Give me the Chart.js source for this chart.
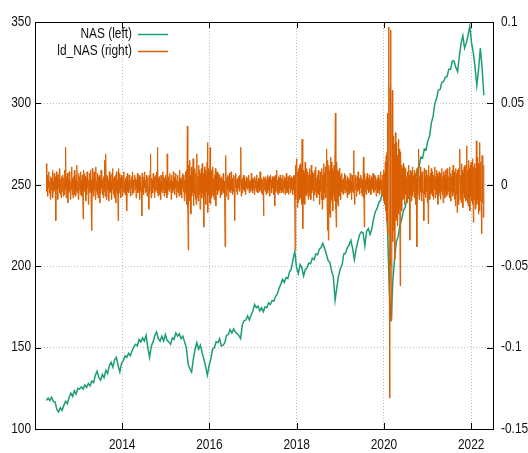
<!DOCTYPE html>
<html>
<head>
<meta charset="utf-8">
<script src="https://cdn.jsdelivr.net/npm/chart.js@4/dist/chart.umd.min.js"></script>
<style>
  html, body { margin: 0; padding: 0; background: #fff; }
  canvas { display: block; }
</style>
</head>
<body>
<canvas id="chart" width="528" height="453"></canvas>
<script>
// Période couverte (observations régulières)
const startYear = 2012.26;
const endYear = 2022.29;

// Niveau NAS (axe gauche)
const nasValues = [
    117.5, 119, 117.5, 119.5, 117, 116.5, 112, 110.5, 113, 111.5,
    114.5, 117, 115.5, 119.5, 122, 120, 123.5, 121.5, 125, 124.5,
    126, 124.5, 127, 125.5, 128, 126.5, 129.5, 128.5, 133, 135.5,
    131.5, 130, 133.5, 131.5, 136, 134, 139, 141, 138, 142.5,
    144, 139, 135, 140.5, 142, 145, 144, 146.5, 145, 148,
    150.5, 152, 151, 155, 153.5, 156, 154, 157.5, 150, 144,
    151, 153.5, 157.5, 159.5, 155.5, 154, 157, 154, 158, 154.5,
    153.5, 152, 156, 155, 159, 157, 158.5, 155.5, 157, 153.5,
    150, 140, 137, 135, 143, 149, 153, 149, 151.5, 147,
    143, 138.5, 133, 139, 143, 149, 150, 153.5, 153, 155.5,
    151, 151.5, 153, 157.5, 158, 161, 159, 161.5, 159.5, 158.5,
    157.5, 155.5, 164, 166.5, 167, 169.5, 167, 170, 172.5, 176.5,
    174.5, 175.5, 172.5, 174.5, 172, 175, 174.5, 177.5, 176.5, 179,
    178.5, 181.5, 183, 186.5, 189, 192, 190, 193, 192.5, 196.5,
    198.5, 204.5, 209, 199, 195.5, 201, 199, 194, 198, 199,
    202, 201.5, 205, 204, 207.5, 207, 210.5, 211.5, 214, 211,
    207.5, 203.5, 202.5, 197, 193.5, 179, 187, 194, 198.5, 201,
    207.5, 208, 211.5, 213, 216, 211, 204, 210.5, 215, 219.5,
    221, 220.5, 212.5, 221.5, 223, 219.5, 223, 229, 233.5, 235.5,
    239, 240.5, 245, 246.5, 240, 222, 185, 166, 191, 205,
    215, 218, 225, 228.5, 234, 236, 241, 242, 247, 248,
    253.5, 254, 260, 261, 267, 266.5, 272, 271.5, 277, 280,
    288, 292, 300, 303, 308, 308.5, 313, 313.5, 316, 316.5,
    321, 321, 326, 326, 322, 319.5, 329, 337, 341.5, 334,
    337, 342, 347.5, 337, 331, 322, 311, 321, 334, 322, 305
];

// Variation logarithmique ld_NAS (axe droit)
const ldNasValues = [
    .013, -.004, .006, -.007, .003, -.002, .008, -.005, .002, -.009, .005, -.003, .004, -.006, .009, -.008, .002, -.004, .007, -.003,
    .005, -.007, -.022, .008, -.003, .006, -.009, .004, -.002, .007, -.005, .010, -.006, .003, -.008, .005, -.004, .002, .006, -.007,
    .004, -.006, .009, -.003, .023, -.008, .005, -.002, .007, -.011, .003, -.005, .008, -.004, .006, -.009, .002, -.003, .011, -.006,
    .004, -.008, .005, -.002, .009, -.006, .003, -.007, .006, -.004, .012, -.005, .002, -.009, .007, -.003, .005, -.006, .008, -.004,
    .003, -.007, .006, -.005, -.021, .009, -.004, .007, -.003, .005, -.010, .004, -.006, .008, -.002, .006, -.012, .003, -.005, .007,
    -.004, .009, -.006, .003, -.028, .010, -.005, .004, -.007, .008, -.003, .006, -.009, .011, -.004, .002, -.006, .007, -.008, .005,
    -.003, .006, -.011, .004, -.005, .009, -.002, .007, -.006, .003, -.008, .005, -.004, .015, -.007, .004, .019, -.009, .006, -.003,
    .005, -.007, .003, -.010, .008, -.004, .006, -.005, .002, -.009, .007, -.003, .010, -.006, .004, -.008, .005, -.002, .006, -.011,
    .008, -.004, .003, -.006, -.022, .010, -.005, .007, -.003, .004, -.008, .006, -.002, .005, -.007, .003, -.004, .008, -.005, .002,
    -.006, .004, -.003, .005, -.016, .007, -.004, .002, -.005, .006, -.003, .004, -.007, .003, -.002, .005, -.006, .008, -.004, .003,
    -.005, .002, .006, -.003, .004, -.008, .003, -.002, .007, -.005, .004, -.003, .006, -.009, .002, -.004, .005, -.003, -.019, .007,
    -.004, .003, -.006, .005, -.002, .008, -.005, .003, -.004, .006, -.007, .002, .005, -.003, -.015, .006, -.004, .009, .019, -.008,
    .004, -.006, .003, -.005, .007, -.002, .005, -.008, .003, -.004, .006, -.003, .008, -.005, .023, -.007, .004, -.003, .005, -.006,
    .002, -.009, .006, -.004, .003, -.005, .008, -.003, .005, -.007, .004, -.002, .006, -.005, .003, -.008, .019, -.006, .004, -.003,
    .005, -.004, .007, -.002, .003, -.009, .006, -.004, .002, -.005, .008, -.003, .004, -.006, .005, -.002, .007, -.008, .003, -.004,
    .006, -.005, .002, -.007, .009, -.003, .004, -.006, .003, -.008, .005, -.002, .007, -.004, .006, -.010, .003, -.005, .008, -.006,
    .009, -.012, .036, -.014, -.040, .012, -.008, .015, -.010, .006, -.018, .011, -.007, .009, -.005, .016, -.013, .008, -.006, .010,
    -.009, .007, -.012, .014, .019, -.008, .005, -.010, .012, -.006, .009, -.015, .007, -.004, .010, -.008, .013, -.005, .007, -.009,
    -.026, .011, -.007, .009, -.012, .006, -.004, .014, .026, -.017, .010, -.006, .008, -.011, .023, -.012, .005, -.008, .009, -.006,
    .011, -.007, .004, -.009, .006, -.005, .010, -.013, .007, -.003, .008, -.006, .005, -.004, .007, -.003, .006, -.008, .004, -.002,
    .005, -.006, .003, -.004, .007, -.005, .002, -.008, -.038, .006, .018, -.007, .004, -.003, .006, -.009, .005, -.002, .007, -.004,
    .003, -.005, .008, -.003, .004, -.006, .002, -.004, .006, -.003, -.022, .005, -.002, .007, -.004, .003, -.006, .004, -.002, .005,
    -.003, .006, -.004, .002, .023, -.007, .003, -.005, .004, -.002, .006, -.003, .005, -.004, .002, -.006, .003, -.002, .005, -.003,
    .004, -.002, .006, -.005, .003, -.003, .002, -.004, .007, -.002, .003, -.005, .004, -.003, .002, -.006, .005, -.002, .003, -.004,
    .006, -.003, .002, -.005, .004, -.002, .003, -.004, .008, -.003, .002, -.005, .004, -.006, .003, -.002, -.019, .005, -.003, .004,
    -.004, .005, -.006, .003, -.002, .006, -.005, .004, -.003, .005, -.007, .002, .006, -.004, .003, -.005, .005, -.002, .004, -.006,
    .005, -.003, -.013, .006, -.004, .005, .009, -.005, .003, -.006, .005, -.002, .004, -.005, .006, -.003, .002, -.005, .004, -.004,
    .006, -.005, .003, -.002, .005, -.006, .004, -.003, .007, -.005, .002, -.004, .005, -.006, .003, -.002, .006, -.005, .004, -.003,
    .005, -.002, .004, -.006, .005, -.003, .006, -.007, -.040, .012, -.009, .014, .016, -.014, .008, -.011, .010, -.007, .012, -.009,
    .013, -.008, .010, -.012, .028, -.016, -.027, .009, -.011, .007, -.012, .014, -.006, .009, -.007, .010, -.005, .008, -.009, .006,
    -.007, .010, -.004, .006, -.009, .012, -.005, .008, -.003, .007, -.010, .005, -.006, .009, -.004, .011, -.007, .004, -.008, .006,
    -.005, .009, -.006, .003, -.012, .008, -.004, .007, -.009, .010, -.015, .006, -.003, .013, -.009, .007, -.005, .011, -.008, .012,
    .022, -.010, -.028, .015, -.034, .012, -.018, .009, -.020, .017, -.011, .014, -.009, .010, -.016, .008, -.006, .012, -.010, .007,
    .044, -.015, -.026, .014, -.011, .009, -.013, .008, -.006, .010, -.007, .005, -.009, .006, -.004, .007, -.005, .003, -.006, .004,
    -.003, .007, -.005, .002, .006, -.004, .003, -.008, .005, -.002, .004, -.006, .003, -.005, .007, -.003, .002, -.009, .006, -.004,
    .003, -.005, .021, -.006, -.012, .004, -.003, .006, -.007, .002, .005, -.004, .008, -.003, .004, -.006, .003, -.002, .006, -.005,
    .004, -.007, .003, -.005, .017, -.008, -.026, .007, -.004, .003, -.006, .005, -.002, .007, -.003, .004, -.005, .002, .006, -.004,
    .003, -.006, .005, -.002, .004, -.003, .007, -.005, .002, -.004, .006, -.003, .005, -.007, .003, -.002, .004, -.005, .006, -.003,
    .002, -.006, .004, -.003, .008, -.005, .003, -.007, .006, -.004, .009, -.010, .007, -.012, .014, -.016, .018, -.022, .020, .044,
    -.030, .035, .097, -.046, -.131, .060, .095, -.050, -.083, .040, .058, -.035, .030, -.028, .025, -.040, -.046, .032, -.022, .026,
    -.020, .018, -.025, .015, .028, -.018, .022, -.015, -.062, .020, -.014, .012, -.016, .010, -.009, .013, -.008, .011, -.012, .007,
    -.006, .010, -.009, .005, -.011, .008, -.007, .012, -.005, .006, -.034, .009, -.006, .008, -.010, .005, -.007, .011, -.004, .006,
    -.008, .009, -.005, .007, -.012, .004, -.038, .010, -.006, .008, .022, -.009, .005, -.007, .011, -.004, .006, -.010, .008, -.005,
    .007, -.009, -.022, .010, -.006, .005, -.008, .009, -.004, .007, -.011, .006, -.024, .012, -.008, .005, -.009, .007, -.006, .010,
    -.005, .008, -.007, .004, -.009, .006, -.003, .011, -.008, .005, -.006, .009, -.004, .007, -.012, .005, -.007, .008, -.005, .006,
    -.009, .007, -.004, .010, -.006, .005, -.011, .008, -.003, .006, -.008, .009, -.005, .004, -.007, .010, -.006, .008, -.004, .005,
    -.008, .011, -.006, .007, -.010, .005, -.004, .009, -.007, .012, -.005, .008, -.009, .006, -.013, .010, -.006, .007, -.017, .009,
    -.007, .010, -.012, .008, .022, -.009, .006, -.011, .013, -.006, .009, -.014, .007, -.005, .011, -.008, .012, -.010, .006, -.009,
    .024, -.011, .009, -.013, .015, -.008, .010, -.016, .012, -.007, .014, -.010, .008, -.012, .016, -.023, .011, -.009, .013, -.015,
    .010, -.014, .027, -.012, .017, -.009, .013, -.018, .011, -.016, .026, -.010, .014, -.013, -.030, .018, -.011, .015, -.020, .012
];

// Graduations
const xTicks = [2014, 2016, 2018, 2020, 2022];
const leftTicks = [100, 150, 200, 250, 300, 350];
const rightTicks = [-0.15, -0.1, -0.05, 0, 0.05, 0.1];
const rightTickLabels = ['-0.15', '-0.1', '-0.05', '0', '0.05', '0.1'];

const seriesNames = ['NAS (left)', 'ld_NAS (right)'];
const seriesColors = ['#1b9e77', '#d95f02'];

const FONT = '14px "Liberation Sans", Arial, sans-serif';
const SQUEEZE = 0.85; // police étroite comme gnuplot

function toPoints(values) {
    const step = (endYear - startYear) / (values.length - 1);
    return values.map((v, i) => ({ x: startYear + i * step, y: v }));
}

function narrowText(ctx, text, x, y, align) {
    ctx.save();
    ctx.scale(SQUEEZE, 1);
    ctx.textAlign = align;
    ctx.fillText(text, x / SQUEEZE, y);
    ctx.restore();
}

// Cadre, graduations intérieures, étiquettes et légende façon gnuplot
const framePlugin = {
    id: 'frame',
    afterDraw(chart) {
        const ctx = chart.ctx;
        const a = chart.chartArea;
        const sx = chart.scales.x;
        const sy = chart.scales.y;
        const sy2 = chart.scales.y2;
        const tick = 6;

        ctx.save();
        ctx.strokeStyle = '#000';
        ctx.lineWidth = 1;
        ctx.beginPath();
        xTicks.forEach(v => {
            const px = Math.round(sx.getPixelForValue(v)) + 0.5;
            ctx.moveTo(px, a.bottom); ctx.lineTo(px, a.bottom - tick);
            ctx.moveTo(px, a.top); ctx.lineTo(px, a.top + tick);
        });
        leftTicks.forEach(v => {
            const py = Math.round(sy.getPixelForValue(v)) + 0.5;
            ctx.moveTo(a.left, py); ctx.lineTo(a.left + tick, py);
        });
        rightTicks.forEach(v => {
            const py = Math.round(sy2.getPixelForValue(v)) + 0.5;
            ctx.moveTo(a.right, py); ctx.lineTo(a.right - tick, py);
        });
        ctx.stroke();
        ctx.strokeRect(Math.round(a.left) + 0.5, Math.round(a.top) + 0.5,
            Math.round(a.right - a.left), Math.round(a.bottom - a.top));

        ctx.font = FONT;
        ctx.fillStyle = '#111';
        ctx.textBaseline = 'middle';

        // Étiquettes des axes
        xTicks.forEach(v => narrowText(ctx, String(v), sx.getPixelForValue(v), a.bottom + 16, 'center'));
        leftTicks.forEach(v => narrowText(ctx, String(v), a.left - 4, sy.getPixelForValue(v), 'right'));
        rightTicks.forEach((v, i) => narrowText(ctx, rightTickLabels[i], a.right + 8, sy2.getPixelForValue(v), 'left'));

        // Légende
        seriesNames.forEach((name, i) => {
            const y = 34 + i * 17;
            narrowText(ctx, name, 132, y, 'right');
            ctx.strokeStyle = seriesColors[i];
            ctx.lineWidth = 1.5;
            ctx.beginPath();
            ctx.moveTo(138, y + 0.5);
            ctx.lineTo(168, y + 0.5);
            ctx.stroke();
        });
        ctx.restore();
    }
};

new Chart(document.getElementById('chart'), {
    type: 'line',
    data: {
        datasets: [
            {
                label: seriesNames[0],
                data: toPoints(nasValues),
                yAxisID: 'y',
                borderColor: seriesColors[0],
                borderWidth: 1.5,
                pointRadius: 0,
                tension: 0,
                order: 1
            },
            {
                label: seriesNames[1],
                data: toPoints(ldNasValues),
                yAxisID: 'y2',
                borderColor: seriesColors[1],
                borderWidth: 1,
                pointRadius: 0,
                tension: 0,
                order: 0
            }
        ]
    },
    options: {
        responsive: false,
        animation: false,
        devicePixelRatio: 1,
        layout: { padding: { top: 22, left: 0, right: 0, bottom: 0 } },
        plugins: {
            legend: { display: false },
            tooltip: { enabled: false }
        },
        scales: {
            x: {
                type: 'linear',
                min: 2012,
                max: 2022.5,
                afterBuildTicks: s => { s.ticks = xTicks.map(v => ({ value: v })); },
                afterFit: s => { s.height = 24; },
                ticks: { display: false },
                grid: { color: '#bdbdbd', lineWidth: 1, drawTicks: false, tickLength: 0 },
                border: { display: false, dash: [1, 2] }
            },
            y: {
                position: 'left',
                min: 100,
                max: 350,
                afterBuildTicks: s => { s.ticks = leftTicks.map(v => ({ value: v })); },
                afterFit: s => { s.width = 35; },
                ticks: { display: false },
                grid: { color: '#bdbdbd', lineWidth: 1, drawTicks: false, tickLength: 0 },
                border: { display: false, dash: [1, 2] }
            },
            y2: {
                position: 'right',
                min: -0.15,
                max: 0.1,
                afterBuildTicks: s => { s.ticks = rightTicks.map(v => ({ value: v })); },
                afterFit: s => { s.width = 35; },
                ticks: { display: false },
                grid: { display: false, drawTicks: false, tickLength: 0 },
                border: { display: false }
            }
        }
    },
    plugins: [framePlugin]
});
</script>
</body>
</html>
